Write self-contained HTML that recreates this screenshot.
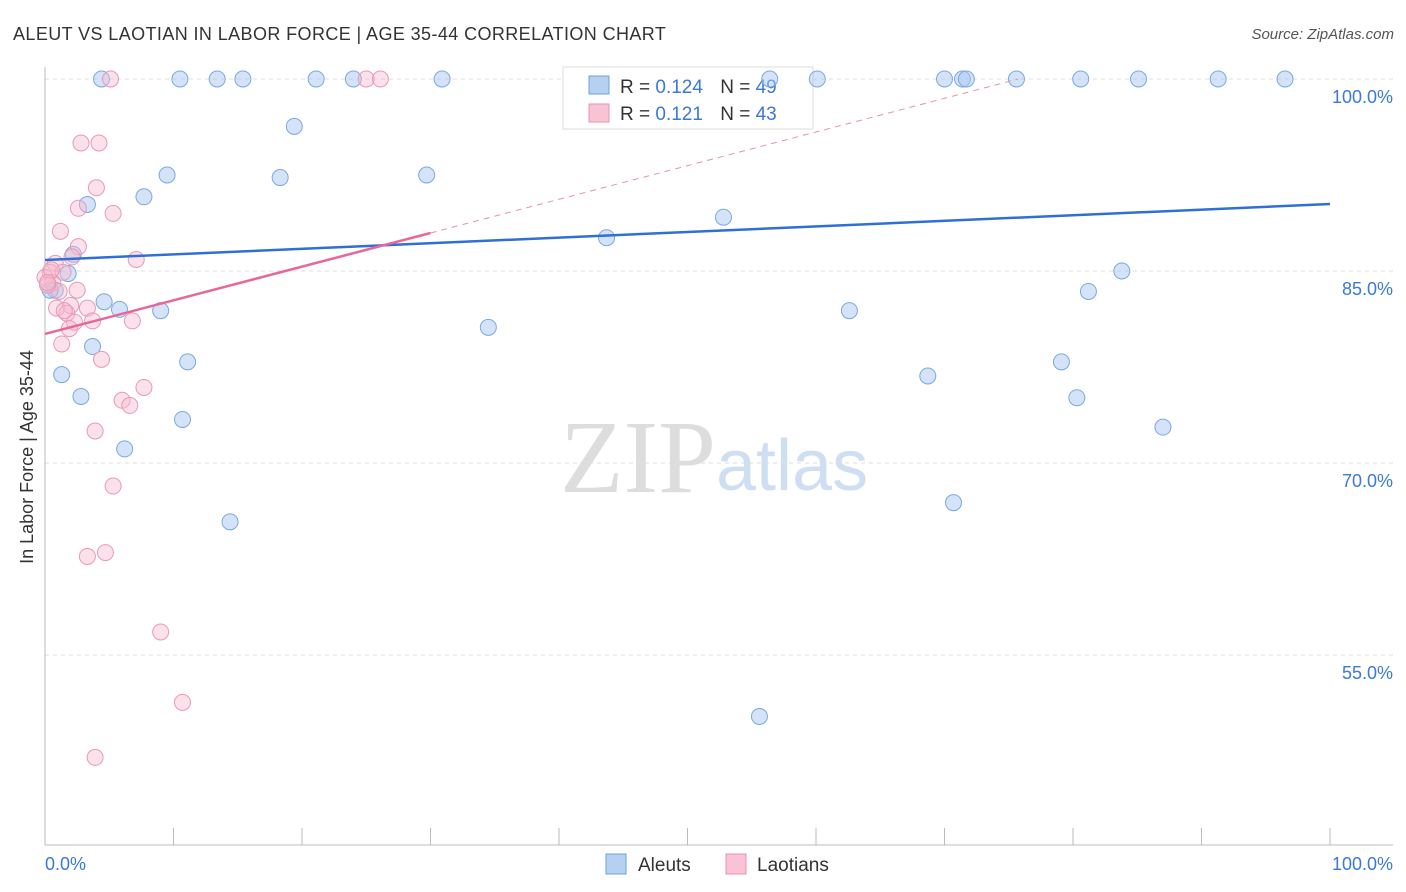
<!DOCTYPE html>
<html><head><meta charset="utf-8"><style>
body{margin:0;background:#fff;font-family:"Liberation Sans",sans-serif;}
svg{display:block}
</style></head><body>
<svg id="chart" width="1406" height="892">
<text x="13" y="40" font-size="18" fill="#333" letter-spacing="0.4">ALEUT VS LAOTIAN IN LABOR FORCE | AGE 35-44 CORRELATION CHART</text>
<text x="1394" y="39" font-size="15" fill="#555" font-style="italic" text-anchor="end">Source: ZipAtlas.com</text>
<text x="716" y="492" font-size="104" fill="#ddd" text-anchor="end" font-family="Liberation Serif,serif">ZIP</text>
<text x="716" y="490" font-size="72" fill="#cfdff3">atlas</text>
<g id="grid"></g>
<g>
<rect x="563" y="67" width="250" height="62" fill="#fff" stroke="#ddd"/>
<rect x="589" y="76" width="20" height="18" fill="#b6d0f2" stroke="#6fa0e0"/>
<rect x="589" y="104" width="20" height="18" fill="#f8c4d4" stroke="#e890b0"/>
<text x="620" y="93" font-size="19" fill="#333">R = <tspan fill="#3b78d8">0.124</tspan>  <tspan dx="12">N = </tspan><tspan fill="#3b78d8">49</tspan></text>
<text x="620" y="120" font-size="19" fill="#333">R =  <tspan fill="#3b78d8">0.121</tspan>  <tspan dx="12">N = </tspan><tspan fill="#3b78d8">43</tspan></text>
</g>
<g id="marks"></g>
<text transform="translate(33,457) rotate(-90)" font-size="18" fill="#333" text-anchor="middle">In Labor Force | Age 35-44</text>
<text x="45" y="870" font-size="18" fill="#3b78d8">0.0%</text>
<text x="1393" y="870" font-size="18" fill="#3b78d8" text-anchor="end">100.0%</text>
<g>
<rect x="606" y="854" width="20" height="20" fill="#b6d0f2" stroke="#6fa0e0"/>
<text x="638" y="871" font-size="19" fill="#333">Aleuts</text>
<rect x="726" y="854" width="20" height="20" fill="#f8c4d4" stroke="#e890b0"/>
<text x="757" y="871" font-size="19" fill="#333">Laotians</text>
</g>
</svg>
<script>
const yTicks=[100,85,70,55];
const yTickLabels=["100.0%","85.0%","70.0%","55.0%"];
const xTicks=[0,10,20,30,40,50,60,70,80,90,100];
const aleutX=[4.4,10.5,13.4,15.4,21.1,24.0,30.9,56.4,60.1,70.0,71.4,71.7,75.6,80.6,85.1,91.3,96.5,19.4,9.5,18.3,29.7,7.7,3.3,52.8,43.7,2.2,1.8,0.8,83.8,81.2,4.6,5.8,9.0,62.6,34.5,3.7,11.1,79.1,1.3,68.7,2.8,80.3,10.7,87.0,6.2,70.7,14.4,55.6,0.4];
const aleutY=[100,100,100,100,100,100,100,100,100,100,100,100,100,100,100,100,100,96.3,92.5,92.3,92.5,90.8,90.2,89.2,87.6,86.3,84.8,83.5,85.0,83.4,82.6,82.0,81.9,81.9,80.6,79.1,77.9,77.9,76.9,76.8,75.2,75.1,73.4,72.8,71.1,66.9,65.4,50.2,83.5];
const laoX=[5.1,25.0,26.1,2.8,4.2,4.0,2.6,5.3,1.2,2.6,2.1,7.1,0.8,0.4,1.4,0,0.6,2.5,1.1,3.3,0.9,2.0,1.7,1.5,3.7,6.8,2.3,1.9,1.3,4.4,7.7,6.0,6.6,3.9,5.3,4.7,3.3,9.0,10.7,3.9,0.2,0.5,0.2];
const laoY=[100,100,100,95.0,95.0,91.5,89.9,89.5,88.1,86.9,86.1,85.9,85.6,84.9,84.9,84.5,84.1,83.5,83.4,82.1,82.1,82.3,81.7,81.9,81.1,81.1,81.0,80.5,79.3,78.1,75.9,74.9,74.5,72.5,68.2,63.0,62.7,56.8,51.3,47.0,83.9,85.1,84.1];
const aleutTrend=[85.86,90.23];
const laoTrend=[80.08,87.97,30];
const NS="http://www.w3.org/2000/svg";
const xs=v=>45+v*12.85, ys=v=>79+(100-v)*12.8;
const grid=document.getElementById('grid'), marks=document.getElementById('marks');
function mk(tag,attrs,parent){const e=document.createElementNS(NS,tag);for(const k in attrs)e.setAttribute(k,attrs[k]);parent.appendChild(e);return e;}
yTicks.forEach((t,i)=>{
 const l=mk('line',{x1:45,x2:1393,y1:ys(t),y2:ys(t),stroke:'#ddd','stroke-dasharray':'4,4'},grid);
 
 
 const tx=mk('text',{x:1393,y:ys(t)+24,'font-size':18,fill:'#3b78d8','text-anchor':'end'},grid);
 tx.textContent=yTickLabels[i];
 
 
});
const ax=mk('line',{x1:45,x2:45,y1:67,y2:845,stroke:'#bbb'},grid);


const bx=mk('line',{x1:45,x2:1393,y1:845,y2:845,stroke:'#bbb'},grid);


xTicks.forEach(t=>{
 const l=mk('line',{x1:xs(t),x2:xs(t),y1:828,y2:845,stroke:'#bbb'},grid);
 
 
});
aleutX.forEach((v,i)=>{
 const c=mk('circle',{cx:xs(v),cy:ys(aleutY[i]),r:8,fill:'rgba(170,200,242,0.5)',stroke:'#7aa8e2','stroke-width':1},marks);
 
 
});
laoX.forEach((v,i)=>{
 const c=mk('circle',{cx:xs(v),cy:ys(laoY[i]),r:8,fill:'rgba(246,186,206,0.42)',stroke:'#ea98b6','stroke-width':1},marks);
 
 
});
const bt=mk('line',{x1:xs(0),y1:ys(aleutTrend[0]),x2:xs(100),y2:ys(aleutTrend[1]),stroke:'#2f6fd6','stroke-width':2.5},marks);


const slope=(laoTrend[1]-laoTrend[0])/laoTrend[2];
const xEnd=(100-laoTrend[0])/slope;
const pd=mk('line',{x1:xs(laoTrend[2]),y1:ys(laoTrend[1]),x2:xs(xEnd),y2:ys(100),stroke:'#e890b0','stroke-width':1,'stroke-dasharray':'6,5'},marks);


const pt=mk('line',{x1:xs(0),y1:ys(laoTrend[0]),x2:xs(laoTrend[2]),y2:ys(laoTrend[1]),stroke:'#e8679a','stroke-width':2.5},marks);


</script>
</body></html>
